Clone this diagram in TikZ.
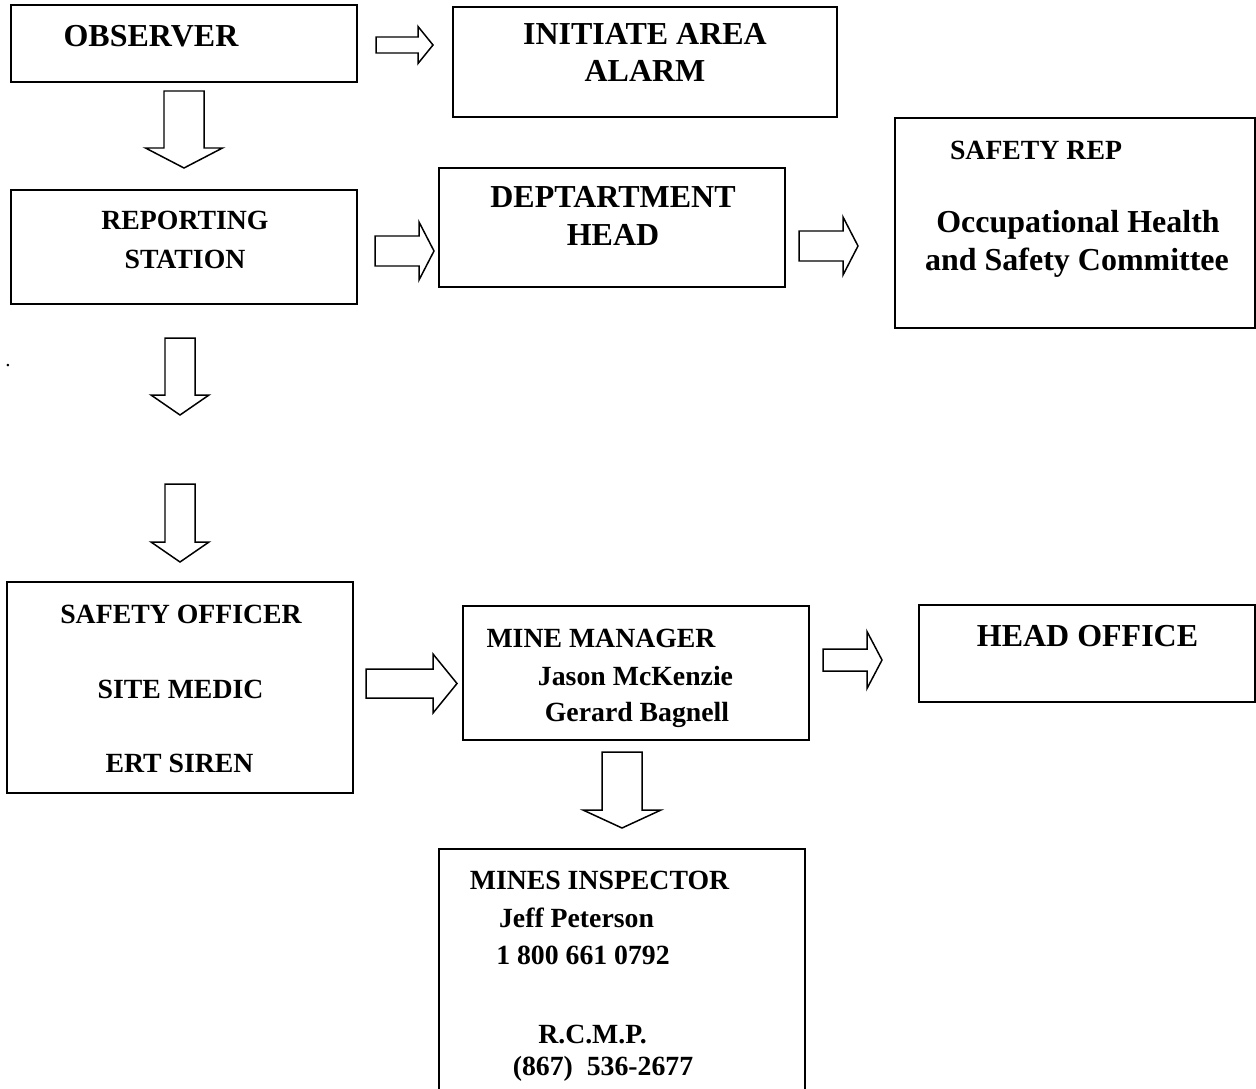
\documentclass[tikz,border=0pt]{standalone}
\usepackage{fontspec}
\setmainfont{Liberation Serif}
\tikzset{
  box/.style={draw, line width=1.1pt, inner sep=0pt},
  bigtxt/.style={font=\bfseries\fontsize{18.2}{21}\selectfont, anchor=base, inner sep=0pt},
  smalltxt/.style={font=\bfseries\fontsize{15.8}{19}\selectfont, anchor=base, inner sep=0pt},
  arrowline/.style={draw, line width=0.85pt, line join=miter},
  % block arrows: shaft length, total length, shaft half width, head half width
  pics/rblock/.style n args={4}{code={
    \draw[arrowline] (0,-#3) -- (#1,-#3) -- (#1,-#4) -- (#2,0) -- (#1,#4) -- (#1,#3) -- (0,#3) -- cycle;}},
  pics/dblock/.style n args={4}{code={
    \draw[arrowline] (-#3,0) -- (-#3,#1) -- (-#4,#1) -- (0,#2) -- (#4,#1) -- (#3,#1) -- (#3,0) -- cycle;}}
}
\begin{document}
\begin{tikzpicture}[x=0.02cm, y=-0.02cm]
        \useasboundingbox (0,0) rectangle (1256,1088);

        % boxes
        \node[box, minimum width=6.92cm, minimum height=1.54cm] (obs) at (184,43.5) {};
        \node[box, minimum width=7.68cm, minimum height=2.2cm] (alarm) at (645,62) {};
        \node[box, minimum width=6.92cm, minimum height=2.28cm] (report) at (184,247) {};
        \node[box, minimum width=6.92cm, minimum height=2.38cm] (dept) at (612,227.5) {};
        \node[box, minimum width=7.2cm, minimum height=4.2cm] (rep) at (1075,223) {};
        \node[box, minimum width=6.92cm, minimum height=4.22cm] (officer) at (180,687.5) {};
        \node[box, minimum width=6.92cm, minimum height=2.68cm] (manager) at (636,673) {};
        \node[box, minimum width=6.72cm, minimum height=1.94cm] (headoff) at (1087,653.5) {};
        \node[box, minimum width=7.32cm, minimum height=5.02cm] (inspector) at (622,974.5) {};

        % texts
        \node[bigtxt] (obs-t) at (151,47) {OBSERVER};
        \node[bigtxt] (alarm-t1) at (645,45) {INITIATE AREA};
        \node[bigtxt] (alarm-t2) at (645,82) {ALARM};
        \node[smalltxt] (report-t1) at (185,229) {REPORTING};
        \node[smalltxt] (report-t2) at (185,268) {STATION};
        \node[bigtxt] (dept-t1) at (613,207) {DEPTARTMENT};
        \node[bigtxt] (dept-t2) at (613,245) {HEAD};
        \node[smalltxt] (rep-t1) at (1036,159) {SAFETY REP};
        \node[bigtxt] (rep-t2) at (1078,232) {Occupational Health};
        \node[bigtxt] (rep-t3) at (1077,270) {and Safety Committee};
        \node[smalltxt] (officer-t1) at (181,623) {SAFETY OFFICER};
        \node[smalltxt] (officer-t2) at (180.5,698) {SITE MEDIC};
        \node[smalltxt] (officer-t3) at (179.5,772) {ERT SIREN};
        \node[smalltxt] (manager-t1) at (601,647) {MINE MANAGER};
        \node[smalltxt] (manager-t2) at (635.5,685) {Jason McKenzie};
        \node[smalltxt] (manager-t3) at (637,721) {Gerard Bagnell};
        \node[bigtxt] (headoff-t) at (1087.5,646) {HEAD OFFICE};
        \node[smalltxt] (insp-t1) at (599.5,889) {MINES INSPECTOR};
        \node[smalltxt] (insp-t2) at (576.5,927) {Jeff Peterson};
        \node[smalltxt] (insp-t3) at (583,964) {1 800 661 0792};
        \node[smalltxt] (insp-t4) at (592.5,1043) {R.C.M.P.};
        \node[smalltxt] (insp-t5) at (603,1075) {(867)\ \ 536-2677};
        \node[font=\fontsize{12}{13}\selectfont, inner sep=0pt] (dot) at (8,366) {.};

        % arrows
        \coordinate (obs-alarm) at (376,45);
        \coordinate (report-dept) at (375,251);
        \coordinate (dept-rep) at (799,246);
        \coordinate (officer-manager) at (366,683.5);
        \coordinate (manager-headoff) at (823,660);
        \coordinate (obs-report) at (184,91);
        \coordinate (report-down) at (180,338);
        \coordinate (down-officer) at (180,484);
        \coordinate (manager-insp) at (622,752);

        \pic at (obs-alarm) {rblock={42}{57}{8}{18.5}};
        \pic at (report-dept) {rblock={44}{59}{15}{29}};
        \pic at (dept-rep) {rblock={44}{59}{15}{29}};
        \pic at (officer-manager) {rblock={67}{91}{14.5}{29.5}};
        \pic at (manager-headoff) {rblock={44}{59}{11}{28.5}};
        \pic at (obs-report) {dblock={57}{77}{20}{38.5}};
        \pic at (report-down) {dblock={57}{77}{15}{29}};
        \pic at (down-officer) {dblock={58}{78}{15}{29}};
        \pic at (manager-insp) {dblock={58}{76}{20}{39}};
\end{tikzpicture}
\end{document}
